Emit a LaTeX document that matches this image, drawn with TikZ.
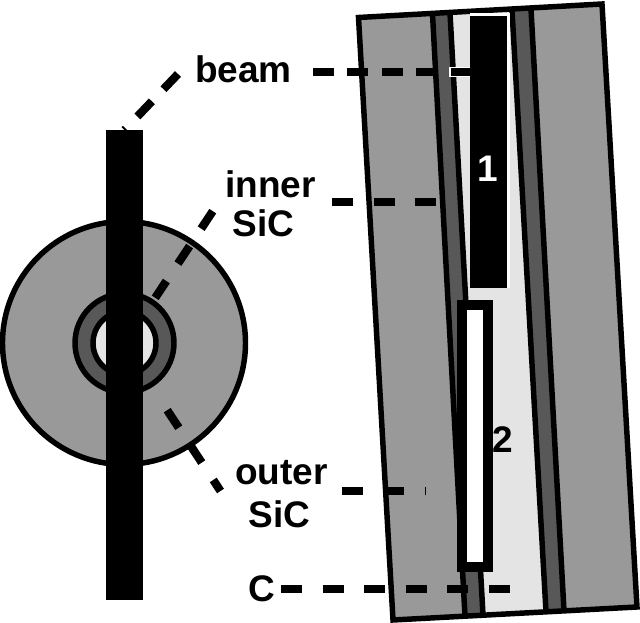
\documentclass[tikz,border=0pt]{standalone}
\usepackage{fontspec}
\setmainfont{Liberation Sans}
\definecolor{midgray}{HTML}{999999}
\definecolor{darkgray}{HTML}{585858}
\definecolor{lightgray}{HTML}{E4E4E4}
\tikzset{
  panel/.style={draw=black,line width=4.1pt,line join=miter},
  bandline/.style={line width=4.1pt},
  label/.style={inner sep=0pt,anchor=base,font=\fontsize{27.75}{30}\selectfont\bfseries},
  barnode/.style={fill=black,inner sep=0pt,outer sep=0pt},
  leader/.style={line width=6.2pt,black},
  dash42/.style={dash pattern=on 15.75pt off 15.45pt},
  dash35/.style={dash pattern=on 15.75pt off 10.1pt}
}
\begin{document}
\begin{tikzpicture}[x=0.75pt,y=-0.75pt]
\useasboundingbox (0,0) rectangle (640,623);
% left cross-section
\draw[panel,fill=midgray] (124,343) circle (121.5);
\draw[panel,fill=darkgray] (124.5,343) circle (49.5);
\draw[panel,fill=lightgray] (124.5,343) circle (31.5);
\node[barnode,minimum width=27.75pt,minimum height=352.5pt] (bar) at (124.5,365) {};
% right panel
\path[fill=midgray] (358.5,17.5) -- (602,4) -- (637,607) -- (393,620) -- cycle;
\path[fill=darkgray] (432.5,14) -- (450,13) -- (483,615.2) -- (465,616.2) -- cycle;
\path[fill=lightgray] (450,13) -- (512,10) -- (546,611.8) -- (483,615.2) -- cycle;
\path[fill=darkgray] (512,10) -- (531,9) -- (564,610.9) -- (546,611.8) -- cycle;
\draw[bandline] (432.5,14) -- (465,616.2);
\draw[bandline] (450,13) -- (483,615.2);
\draw[bandline] (512,10) -- (546,611.8);
\draw[bandline] (531,9) -- (564,610.9);
\draw[panel] (358.5,17.5) -- (602,4) -- (637,607) -- (393,620) -- cycle;
\path[fill=white] (470,13.5) -- (509.5,13.5) -- (509.5,288) -- (470,288) -- cycle;
% beams
\node[barnode,minimum width=27.75pt,minimum height=204pt] (beamone) at (488.5,152) {};
\node[draw=black,line width=7.5pt,fill=white,inner sep=0pt,outer sep=0pt,minimum width=19.5pt,minimum height=196.5pt] (beamtwo) at (475,436) {};
\node[inner sep=0pt,anchor=base,text=white,font=\fontsize{27.75}{30}\selectfont\bfseries] (numone) at (488,182) {1};
\node[inner sep=0pt,anchor=base,font=\fontsize{27.75}{30}\selectfont\bfseries] (numtwo) at (502.5,452.5) {2};
% labels
\node[label] (lbeam) at (243.5,83) {beam};
\node[label] (linner) at (270.5,198) {inner};
\node[label] (linnersic) at (263.5,237) {SiC};
\node[label] (louter) at (281.5,485) {outer};
\node[label] (loutersic) at (279.5,528) {SiC};
\node[label] (lc) at (262,602) {C};
% leaders
\coordinate (beamend) at (beamone.west|-0,72);
\draw[white,line width=8pt] (449,72) -- (beamend);
\coordinate (a1) at (313,72);
\draw[leader,dash35] (a1) -- (beamend);
\coordinate (a2) at (332,202);
\coordinate (a2e) at (437,202);
\draw[leader,dash42] (a2) -- (a2e);
\coordinate (a3) at (341.5,491);
\coordinate (a3e) at (404,491);
\draw[leader,dash42] (a3) -- (a3e);
\draw[line width=0.8pt] (425.7,487) -- (425.7,495);
\coordinate (a4) at (281,589);
\coordinate (a4e) at (511,589);
\draw[leader,dash42] (a4) -- (a4e);
% oblique leaders
\coordinate (b0) at (178,74);
\coordinate (b1) at (124.5,130);
\draw[leader,dash pattern=on 15.75pt off 12.6pt] (b0) -- (b1);
\coordinate (c0) at (212.8,211.2);
\coordinate (c1) at (155.2,297.8);
\draw[leader,dash pattern=on 15.75pt off 15.7pt] (c0) -- (c1);
\coordinate (d0) at (167.2,410.2);
\coordinate (d1) at (220.5,491);
\draw[leader,dash pattern=on 15.75pt off 15.6pt] (d0) -- (d1);
\end{tikzpicture}
\end{document}
